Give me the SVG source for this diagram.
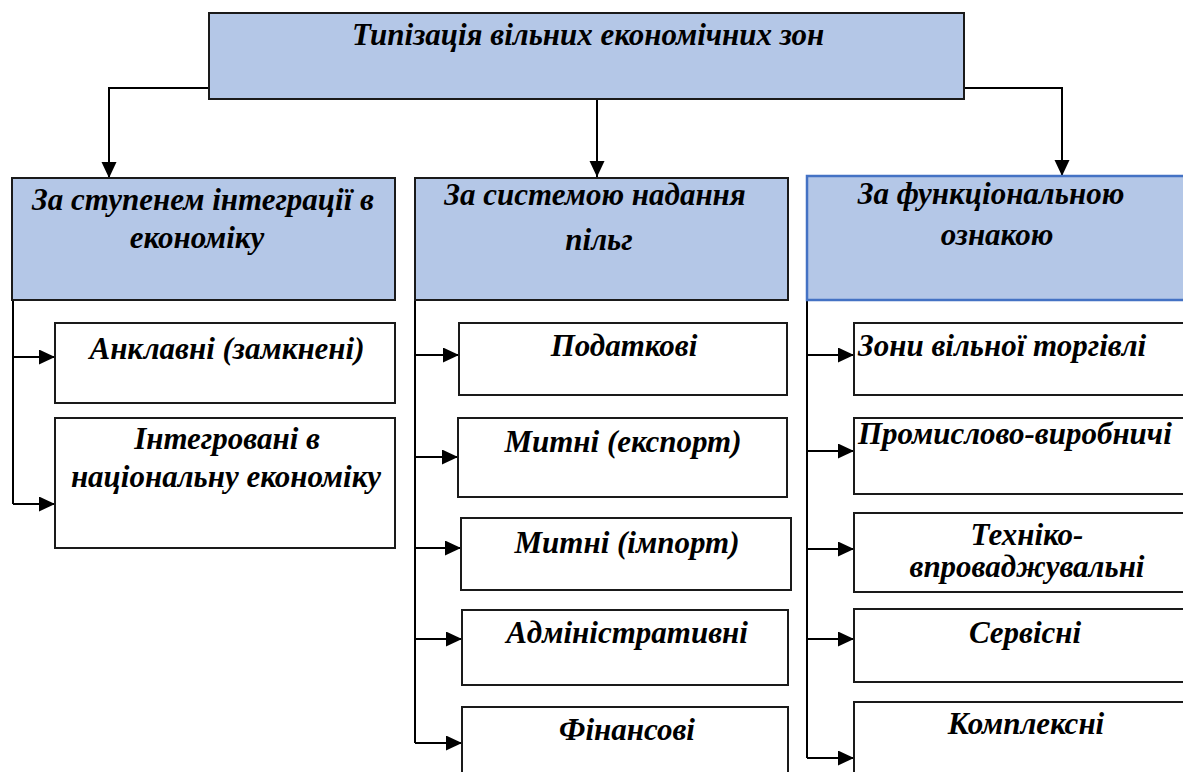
<svg xmlns="http://www.w3.org/2000/svg" width="1183" height="772" viewBox="0 0 1183 772">
  <style>
    .hdr { fill: #B4C7E7; stroke: #1a1a1a; stroke-width: 2; }
    .hdr-blue { fill: #B4C7E7; stroke: #4472C4; stroke-width: 2.5; }
    .box { fill: #ffffff; stroke: #1a1a1a; stroke-width: 2; }
    .t { font-family: "Liberation Serif", "Times New Roman", serif; font-weight: bold; font-style: italic; font-size: 31px; fill: #000; }
    .c { text-anchor: middle; }
    .wire { fill: none; stroke: #000; stroke-width: 2; }
  </style>
  <defs>
    <marker id="arrow" markerUnits="userSpaceOnUse" markerWidth="18" markerHeight="16" refX="16" refY="7.5" orient="auto">
      <path d="M0,0 L16,7.5 L0,15 z" fill="#000"/>
    </marker>
  </defs>
  <rect width="1183" height="772" fill="#ffffff"/>

  <!-- connectors -->
  <g id="connectors" class="wire">
    <path d="M210,88 H109 V178" marker-end="url(#arrow)"/>
    <path d="M597,99 V177" marker-end="url(#arrow)"/>
    <path d="M964,88 H1062 V176" marker-end="url(#arrow)"/>

    <path d="M13,300 V504"/>
    <path d="M13,357 H55" marker-end="url(#arrow)"/>
    <path d="M13,504 H55" marker-end="url(#arrow)"/>

    <path d="M415,300 V743"/>
    <path d="M415,355 H459" marker-end="url(#arrow)"/>
    <path d="M415,457 H458" marker-end="url(#arrow)"/>
    <path d="M415,548 H461" marker-end="url(#arrow)"/>
    <path d="M415,639 H462" marker-end="url(#arrow)"/>
    <path d="M415,743 H462" marker-end="url(#arrow)"/>

    <path d="M807,301 V758"/>
    <path d="M807,355 H854" marker-end="url(#arrow)"/>
    <path d="M807,451 H854" marker-end="url(#arrow)"/>
    <path d="M807,549 H854" marker-end="url(#arrow)"/>
    <path d="M807,639 H854" marker-end="url(#arrow)"/>
    <path d="M807,758 H854" marker-end="url(#arrow)"/>
  </g>

  <!-- root -->
  <g id="root">
    <rect class="hdr" x="209" y="13" width="755" height="86"/>
    <text class="t c" x="588" y="45">Типізація вільних економічних зон</text>
  </g>

  <!-- category headers -->
  <g id="cat-integration">
    <rect class="hdr" x="12" y="178" width="383" height="122"/>
    <text class="t c" x="203" y="210">За ступенем інтеграції в</text>
    <text class="t c" x="197" y="248">економіку</text>
  </g>
  <g id="cat-benefits">
    <rect class="hdr" x="415" y="178" width="373" height="122"/>
    <text class="t c" x="595" y="205">За системою надання</text>
    <text class="t c" x="599" y="250">пільг</text>
  </g>
  <g id="cat-function">
    <rect class="hdr-blue" x="807" y="176" width="390" height="124"/>
    <text class="t c" x="991" y="204">За функціональною</text>
    <text class="t c" x="997" y="245">ознакою</text>
  </g>

  <!-- integration types -->
  <g id="enclave">
    <rect class="box" x="55" y="323" width="340" height="80"/>
    <text class="t c" x="227" y="359">Анклавні (замкнені)</text>
  </g>
  <g id="integrated">
    <rect class="box" x="55" y="418" width="340" height="130"/>
    <text class="t c" x="227" y="449">Інтегровані в</text>
    <text class="t c" x="226" y="487">національну економіку</text>
  </g>

  <!-- benefit types -->
  <g id="tax">
    <rect class="box" x="459" y="323" width="328" height="72"/>
    <text class="t c" x="624" y="356">Податкові</text>
  </g>
  <g id="customs-export">
    <rect class="box" x="458" y="418" width="329" height="79"/>
    <text class="t c" x="623" y="452">Митні (експорт)</text>
  </g>
  <g id="customs-import">
    <rect class="box" x="461" y="518" width="330" height="72"/>
    <text class="t c" x="627" y="553">Митні (імпорт)</text>
  </g>
  <g id="administrative">
    <rect class="box" x="462" y="610" width="326" height="75"/>
    <text class="t c" x="627" y="643">Адміністративні</text>
  </g>
  <g id="financial">
    <rect class="box" x="462" y="707" width="326" height="75"/>
    <text class="t c" x="627" y="740">Фінансові</text>
  </g>

  <!-- functional types -->
  <g id="free-trade">
    <rect class="box" x="854" y="323" width="344" height="72"/>
    <text class="t" x="858" y="356">Зони вільної торгівлі</text>
  </g>
  <g id="industrial">
    <rect class="box" x="854" y="418" width="344" height="76"/>
    <text class="t" x="858" y="444">Промислово-виробничі</text>
  </g>
  <g id="tech">
    <rect class="box" x="854" y="513" width="344" height="79"/>
    <text class="t c" x="1027" y="545">Техніко-</text>
    <text class="t c" x="1027" y="577">впроваджувальні</text>
  </g>
  <g id="service">
    <rect class="box" x="854" y="609" width="344" height="73"/>
    <text class="t c" x="1025" y="643">Сервісні</text>
  </g>
  <g id="complex">
    <rect class="box" x="854" y="702" width="344" height="80"/>
    <text class="t c" x="1026" y="734">Комплексні</text>
  </g>
</svg>
